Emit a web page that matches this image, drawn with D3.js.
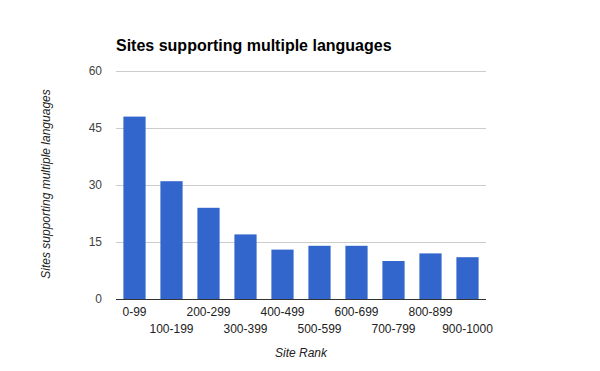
<!DOCTYPE html>
<html>
<head>
<meta charset="utf-8">
<script src="https://cdn.jsdelivr.net/npm/d3@7"></script>
<style>
  body { margin: 0; background: #fff; }
  text { font-family: Arial, "Liberation Sans", sans-serif; }
</style>
</head>
<body>
<div id="chart"></div>
<script>
// data
var ranks = ["0-99", "100-199", "200-299", "300-399", "400-499",
             "500-599", "600-699", "700-799", "800-899", "900-1000"];
var sites = [48, 31, 24, 17, 13, 14, 14, 10, 12, 11];
var yTicks = [0, 15, 30, 45, 60];

var margin = {top: 71, right: 114, bottom: 72, left: 116},
    width = 600 - margin.left - margin.right,
    height = 371 - margin.top - margin.bottom;

var svg = d3.select("#chart")
  .append("svg")
    .attr("width", 600)
    .attr("height", 371);

var g = svg.append("g")
    .attr("transform", "translate(" + margin.left + "," + margin.top + ")");

var x = d3.scaleBand()
    .domain(ranks)
    .range([0, width])
    .paddingInner(0.4)
    .paddingOuter(0.2);

var y = d3.scaleLinear()
    .domain([0, 60])
    .range([height, 0]);

// gridlines + y labels
var yAxis = g.append("g")
    .call(d3.axisLeft(y).tickValues(yTicks).tickSize(-width).tickPadding(14));
yAxis.select(".domain").remove();
yAxis.selectAll(".tick line").attr("stroke", "#cccccc");
yAxis.selectAll(".tick text")
    .attr("fill", "#444")
    .style("font-size", "12px");

// bars
g.append("g")
  .selectAll("rect")
  .data(sites)
  .enter()
  .append("rect")
    .attr("x", function(d, i) { return x(ranks[i]); })
    .attr("y", function(d) { return y(d); })
    .attr("width", x.bandwidth())
    .attr("height", function(d) { return height - y(d); })
    .attr("fill", "#3366cc");

// baseline
g.append("line")
    .attr("x1", 0)
    .attr("x2", width)
    .attr("y1", y(0) + 0.5)
    .attr("y2", y(0) + 0.5)
    .attr("stroke", "#333")
    .attr("stroke-width", 1);

// x labels, staggered in two rows
var xAxis = g.append("g")
    .attr("transform", "translate(0," + height + ")")
    .call(d3.axisBottom(x).tickSize(0).tickPadding(0));
xAxis.select(".domain").remove();
xAxis.selectAll(".tick text")
    .attr("fill", "#222")
    .attr("dy", null)
    .attr("y", function(d, i) { return i % 2 == 0 ? 17 : 34; })
    .style("font-size", "12px");

// title
svg.append("text")
    .attr("x", margin.left)
    .attr("y", 51)
    .style("font-size", "16px")
    .style("font-weight", "bold")
    .attr("fill", "#000")
    .text("Sites supporting multiple languages");

// axis titles
svg.append("text")
    .attr("x", margin.left + width / 2)
    .attr("y", 357)
    .attr("text-anchor", "middle")
    .style("font-size", "12px")
    .style("font-style", "italic")
    .attr("fill", "#222")
    .text("Site Rank");

svg.append("text")
    .attr("transform", "rotate(-90)")
    .attr("x", -184)
    .attr("y", 50)
    .attr("text-anchor", "middle")
    .style("font-size", "12px")
    .style("font-style", "italic")
    .attr("fill", "#222")
    .text("Sites supporting multiple languages");
</script>
</body>
</html>
